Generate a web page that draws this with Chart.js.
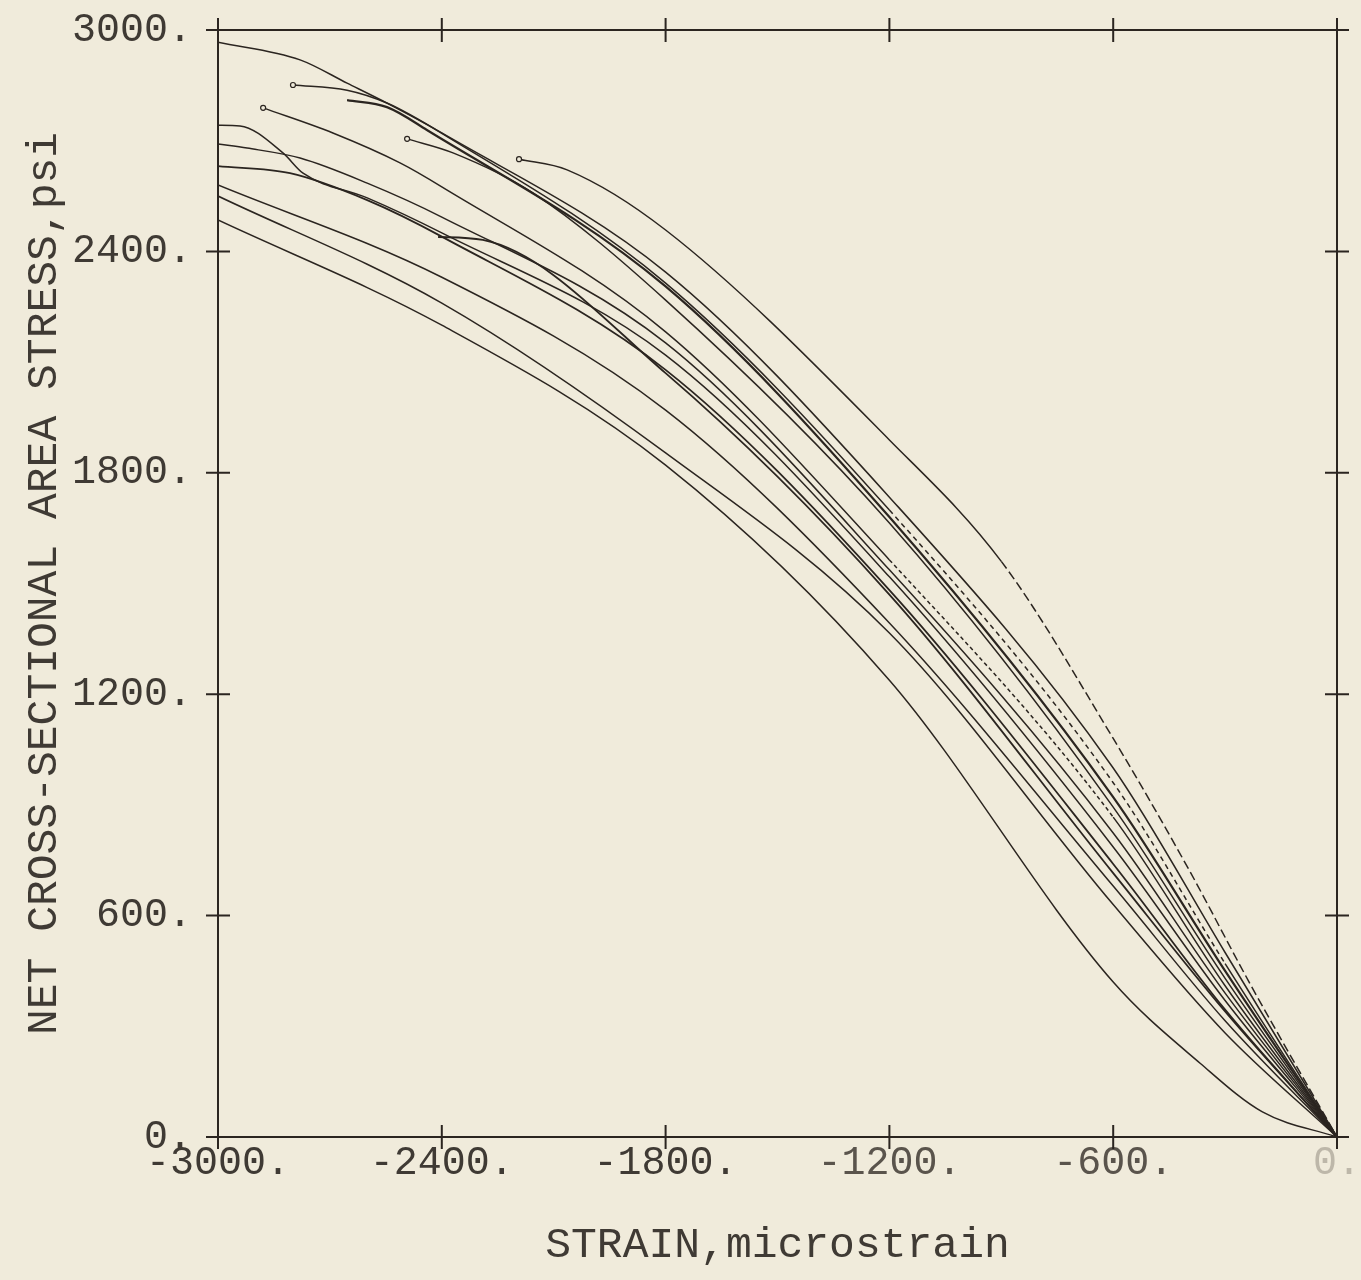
<!DOCTYPE html>
<html>
<head>
<meta charset="utf-8">
<title>Stress vs strain</title>
<script src="https://cdn.jsdelivr.net/npm/chart.js@4.4.1/dist/chart.umd.min.js"></script>
<style>
  html, body { margin: 0; padding: 0; background: #f0ebdb; }
  canvas { display: block; }
</style>
</head>
<body>
<canvas id="stressChart" width="1361" height="1280"></canvas>
<script>
// ---- data (strain in microstrain, stress in psi) ----
const xTicks = [-3000, -2400, -1800, -1200, -600, 0];
const yTicks = [0, 600, 1200, 1800, 2400, 3000];

const strainA = [-3000, -2780, -2654, -2547, -2400, -1800, -1200, -600, -300, 0];
const stressA = [2967, 2919, 2856, 2802, 2721, 2344, 1734, 1000, 500, 0];

const strainB = [-2799, -2654, -2547, -2400, -1800, -1200, -600, -300, 0];
const stressB = [2851, 2837, 2802, 2720, 2314, 1699, 960, 470, 0];

const strainC = [-2654, -2547, -2440, -1800, -1200, -600, -300, 0];
const stressC = [2810, 2791, 2729, 2305, 1680, 921, 450, 0];

const strainD = [-2879, -2692, -2512, -2400, -1800, -1200, -600, -300, 0];
const stressD = [2789, 2721, 2640, 2575, 2182, 1564, 867, 410, 0];

const strainE = [-2493, -2370, -2155, -1800, -1200, -600, -300, 0];
const stressE = [2705, 2667, 2558, 2268, 1664, 894, 430, 0];

const strainF = [-2193, -2064, -1800, -1200, -900, -600, -400, -233, 0];
const stressF = [2650, 2621, 2458, 1889, 1560, 1080, 730, 415, 0];

const strainG = [-3000, -2941, -2826, -2772, -2600, -2400, -1800, -1200, -600, -300, 0];
const stressG = [2742, 2740, 2667, 2612, 2545, 2450, 2119, 1518, 786, 370, 0];

const strainH = [-3000, -2922, -2780, -2600, -2400, -1800, -1200, -600, -300, 0];
const stressH = [2691, 2680, 2653, 2585, 2493, 2152, 1537, 824, 390, 0];

const strainI = [-3000, -2807, -2600, -2400, -1800, -1200, -600, -300, 0];
const stressI = [2631, 2612, 2539, 2440, 2079, 1482, 740, 345, 0];

const strainM = [-2410, -2290, -1800, -1200, -600, -300, 0];
const stressM = [2439, 2431, 2070, 1470, 715, 340, 0];

const strainJ = [-3000, -2400, -1800, -1200, -600, -300, 0];
const stressJ = [2580, 2330, 1970, 1393, 680, 315, 0];

const strainK = [-3000, -2400, -1800, -1200, -600, -300, 0];
const stressK = [2550, 2260, 1854, 1366, 630, 282, 0];

const strainL = [-3000, -2400, -1800, -1200, -600, -367, -200, 0];
const stressL = [2485, 2200, 1821, 1238, 420, 200, 68, 0];

// ---- styling ----
const inkColor = '#2b2520';
const labelColor = '#3f3a34';
const paperColor = '#f0ebdb';
const plotFont = '"Liberation Mono", "DejaVu Sans Mono", monospace';

function toPoints(xs, ys) {
    return xs.map((x, i) => ({ x: x, y: ys[i] }));
}

// curves that begin inside the frame get a small open circle at their start
function makeCurve(name, xs, ys, opts = {}) {
    const dash = opts.dash || [9, 4];
    return {
        label: name,
        data: toPoints(xs, ys),
        showLine: true,
        borderColor: inkColor,
        borderWidth: opts.width || 1.5,
        cubicInterpolationMode: 'monotone',
        pointRadius: ctx => (opts.startMark && ctx.dataIndex === 0) ? 2.5 : 0,
        pointBorderColor: inkColor,
        pointBackgroundColor: paperColor,
        pointBorderWidth: 1.2,
        segment: opts.dashFrom !== undefined ? {
            borderDash: ctx => (ctx.p0.parsed.x >= opts.dashFrom && ctx.p1.parsed.x <= opts.dashTo) ? dash : undefined
        } : undefined
    };
}

// frame on all four sides, with tick marks crossing each side
const frameTicks = {
    id: 'frameTicks',
    afterDatasetsDraw(chart) {
        const { ctx, chartArea: a, scales: { x, y } } = chart;
        const half = 12;
        ctx.save();
        ctx.strokeStyle = inkColor;
        ctx.lineWidth = 2;
        ctx.strokeRect(a.left, a.top, a.right - a.left, a.bottom - a.top);
        ctx.beginPath();
        xTicks.forEach(v => {
            const px = x.getPixelForValue(v);
            ctx.moveTo(px, a.bottom - half); ctx.lineTo(px, a.bottom + half);
            ctx.moveTo(px, a.top - half); ctx.lineTo(px, a.top + half);
        });
        yTicks.forEach(v => {
            const py = y.getPixelForValue(v);
            ctx.moveTo(a.left - half, py); ctx.lineTo(a.left + half, py);
            ctx.moveTo(a.right - half, py); ctx.lineTo(a.right + half, py);
        });
        ctx.stroke();
        ctx.restore();
    }
};

// the scanned labels fade towards the right end of the strain axis
function xLabelColor(ctx) {
    const v = ctx.tick ? ctx.tick.value : null;
    if (v === 0) return '#bdb7a9';
    if (v === -600 || v === -1200) return '#5a544c';
    return labelColor;
}

const datasets = [
    makeCurve('A', strainA, stressA),
    makeCurve('B', strainB, stressB, { startMark: true, dashFrom: -1200, dashTo: -300, dash: [5, 4] }),
    makeCurve('C', strainC, stressC, { width: 2.2 }),
    makeCurve('D', strainD, stressD, { startMark: true, dashFrom: -1200, dashTo: -600, dash: [4, 3] }),
    makeCurve('E', strainE, stressE, { startMark: true }),
    makeCurve('F', strainF, stressF, { startMark: true, dashFrom: -1000, dashTo: 0 }),
    makeCurve('G', strainG, stressG),
    makeCurve('H', strainH, stressH),
    makeCurve('I', strainI, stressI, { width: 1.8 }),
    makeCurve('M', strainM, stressM, { width: 1.8 }),
    makeCurve('J', strainJ, stressJ),
    makeCurve('K', strainK, stressK),
    makeCurve('L', strainL, stressL)
];

new Chart(document.getElementById('stressChart'), {
    type: 'scatter',
    data: { datasets: datasets },
    options: {
        responsive: false,
        animation: false,
        layout: { padding: { top: 30, right: 24, left: 0, bottom: 0 } },
        plugins: {
            legend: { display: false },
            tooltip: { enabled: false }
        },
        scales: {
            x: {
                type: 'linear',
                min: -3000,
                max: 0,
                grid: { display: false, drawTicks: false },
                border: { display: false },
                afterBuildTicks: scale => { scale.ticks = xTicks.map(v => ({ value: v })); },
                afterFit: scale => {
                    scale.height = 143;
                    scale.paddingLeft = 0;
                    scale.paddingRight = 0;
                },
                ticks: {
                    autoSkip: false,
                    maxRotation: 0,
                    minRotation: 0,
                    padding: 2,
                    color: xLabelColor,
                    font: { family: plotFont, size: 40 },
                    callback: v => v + '.'
                },
                title: {
                    display: true,
                    text: 'STRAIN,microstrain',
                    color: labelColor,
                    font: { family: plotFont, size: 43 },
                    padding: { top: 0, bottom: 9 }
                }
            },
            y: {
                type: 'linear',
                min: 0,
                max: 3000,
                grid: { display: false, drawTicks: false },
                border: { display: false },
                afterBuildTicks: scale => { scale.ticks = yTicks.map(v => ({ value: v })); },
                afterFit: scale => {
                    scale.width = 218;
                    scale.paddingTop = 0;
                    scale.paddingBottom = 0;
                },
                ticks: {
                    autoSkip: false,
                    padding: 26,
                    color: labelColor,
                    font: { family: plotFont, size: 40 },
                    callback: v => v + '.'
                },
                title: {
                    display: true,
                    text: 'NET CROSS-SECTIONAL AREA STRESS,psi',
                    color: labelColor,
                    font: { family: plotFont, size: 43 },
                    padding: { top: 19, bottom: 0 }
                }
            }
        }
    },
    plugins: [frameTicks]
});
</script>
</body>
</html>
